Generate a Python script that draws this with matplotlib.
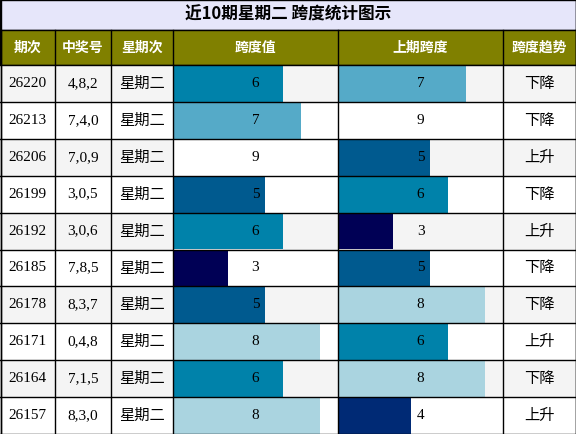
import matplotlib
matplotlib.use("Agg")
import matplotlib.pyplot as plt
from matplotlib.patches import Rectangle

periods = ["26220","26213","26206","26199","26192","26185","26178","26171","26164","26157"]
numbers = ["4,8,2","7,4,0","7,0,9","3,0,5","3,0,6","7,8,5","8,3,7","0,4,8","7,1,5","8,3,0"]
weekday = ["星期二"]*10
span = [6,7,9,5,6,3,5,8,6,8]
prev_span = [7,9,5,6,3,5,8,6,8,4]
trend = ["下降","下降","上升","下降","上升","下降","下降","上升","下降","上升"]
headers = ["期次","中奖号","星期次","跨度值","上期跨度","跨度趋势"]
title = "近10期星期二 跨度统计图示"
max_span = 9

colors = {3:"#000055",4:"#002a75",5:"#005a8f",6:"#0082aa",7:"#55aac8",8:"#aad4e0",9:"#ffffff"}
cjk = ["Noto Sans CJK SC","DejaVu Sans"]
serif = ["Liberation Serif","Noto Sans CJK SC"]

fig = plt.figure(figsize=(5.76,4.34), dpi=100)
ax = fig.add_axes([0,0,1,1])
ax.set_xlim(0,576); ax.set_ylim(434,0); ax.axis("off")

cols = [0,55,111,173,338,503,576]
top_h, head_h = 30, 35
row_h = (434-top_h-head_h)/10

ax.add_patch(Rectangle((0,0),576,top_h,facecolor="#e6e6fa",edgecolor="black",lw=1))
ax.text(288,top_h/2,title,ha="center",va="center",fontsize=12,fontweight="bold",family=cjk)
ax.add_patch(Rectangle((0,top_h),576,head_h,facecolor="#808000",edgecolor="black",lw=1))
for i,h in enumerate(headers):
    ax.text((cols[i]+cols[i+1])/2,top_h+head_h/2,h,ha="center",va="center",color="white",fontsize=10,fontweight="bold",family=cjk)

for r in range(10):
    y0 = top_h+head_h+r*row_h
    bg = "#f4f4f4" if r%2==0 else "#ffffff"
    ax.add_patch(Rectangle((0,y0),576,row_h,facecolor=bg,edgecolor="none"))
    yc = y0+row_h/2
    for ci,(val,col) in enumerate([(span[r],3),(prev_span[r],4)]):
        x0 = cols[col]; w = cols[col+1]-cols[col]
        ax.barh(yc,val/max_span*w,height=row_h,left=x0,color=colors[val],edgecolor="none")
        ax.text(x0+w/2,yc,str(val),ha="center",va="center",fontsize=11,family=serif,color="black")
    ax.text((cols[0]+cols[1])/2,yc,periods[r],ha="center",va="center",fontsize=11,family=serif)
    ax.text((cols[1]+cols[2])/2,yc,numbers[r],ha="center",va="center",fontsize=11,family=serif)
    ax.text((cols[2]+cols[3])/2,yc,weekday[r],ha="center",va="center",fontsize=11,family=cjk)
    ax.text((cols[5]+cols[6])/2,yc,trend[r],ha="center",va="center",fontsize=11,family=cjk)
    ax.plot([0,576],[y0,y0],color="black",lw=1)
ax.plot([0,576],[433.5,433.5],color="black",lw=1)
for x in cols:
    xx = min(max(x,0.5),575.5)
    ax.plot([xx,xx],[top_h,434],color="black",lw=1)
ax.plot([0.5,0.5],[0,434],color="black",lw=1); ax.plot([575.5,575.5],[0,434],color="black",lw=1)
fig.savefig("out.png",dpi=100)
